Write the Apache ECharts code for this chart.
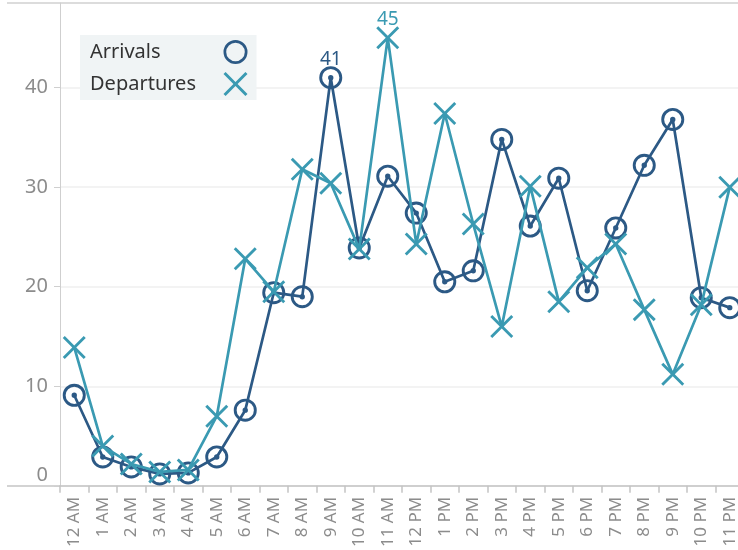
<!DOCTYPE html>
<html>
<head>
<meta charset="utf-8">
<script src="https://cdn.jsdelivr.net/npm/echarts@6/dist/echarts.min.js"></script>
<style>
  html, body { margin: 0; padding: 0; background: #fff; overflow: hidden; }
  /* the last category runs a little past the window edge, as in the original */
  #chart { width: 744px; height: 550px; }
</style>
</head>
<body>
<div id="chart"></div>
<script>
// hours of the day
const hours = ['12 AM', '1 AM', '2 AM', '3 AM', '4 AM', '5 AM', '6 AM', '7 AM', '8 AM', '9 AM', '10 AM', '11 AM',
  '12 PM', '1 PM', '2 PM', '3 PM', '4 PM', '5 PM', '6 PM', '7 PM', '8 PM', '9 PM', '10 PM', '11 PM'];
// values
const arrivals = [9.1, 2.9, 1.9, 1.2, 1.3, 2.9, 7.6, 19.4, 19.0, 41, 23.9, 31.1,
  27.4, 20.5, 21.6, 34.8, 26.1, 30.9, 19.6, 25.9, 32.2, 36.8, 18.9, 17.9];
const departures = [13.9, 4.0, 2.2, 1.4, 1.6, 7.0, 22.8, 19.5, 31.8, 30.4, 23.8, 45,
  24.3, 37.4, 26.3, 16.0, 30.1, 18.5, 21.9, 24.3, 17.7, 11.2, 18.2, 30.0];
const yTicks = [0, 10, 20, 30, 40];

const ARR_COLOR = '#2c5985';
const DEP_COLOR = '#3a9ab2';
const FONT = '"Noto Sans", sans-serif';

// ring with a dot in the middle (hollow, so the line shows through)
const RING_DOT = 'path://M24,12A12,12,0,1,1,0,12A12,12,0,1,1,24,12Z' +
  'M21,12A9,9,0,1,0,3,12A9,9,0,1,0,21,12Z' +
  'M14.8,12A2.8,2.8,0,1,1,9.2,12A2.8,2.8,0,1,1,14.8,12Z';
const RING = 'path://M24,12A12,12,0,1,1,0,12A12,12,0,1,1,24,12Z' +
  'M21.3,12A9.3,9.3,0,1,0,2.7,12A9.3,9.3,0,1,0,21.3,12Z';
const CROSS = 'path://M2.1,0L12,9.9L21.9,0L24,2.1L14.1,12L24,21.9L21.9,24L12,14.1L2.1,24L0,21.9L9.9,12L0,2.1Z';

// label only the peak of each series
function withPeakLabel(values, color) {
  const peak = values.indexOf(Math.max(...values));
  return values.map((v, i) => i === peak ? {
    value: v,
    label: {
      show: true, position: 'top', distance: -3,
      formatter: p => Math.round(p.value),
      color: color, fontSize: 19, fontFamily: FONT
    }
  } : v);
}

const chart = echarts.init(document.getElementById('chart'));
chart.setOption({
  animation: false,
  grid: { left: 60, right: 0, top: 3, bottom: 64 },
  legend: {
    orient: 'vertical',
    left: 80, top: 35,
    align: 'right',
    padding: [5, 9, 4, 10],
    itemGap: 8,
    itemWidth: 25, itemHeight: 24,
    backgroundColor: '#f0f4f5',
    selectedMode: false,
    formatter: name => '{t|' + name + '}',
    textStyle: {
      color: '#333', fontSize: 20, fontFamily: FONT,
      rich: { t: { width: 128, align: 'left', color: '#333', fontSize: 20, fontFamily: FONT } }
    },
    data: [
      { name: 'Arrivals', icon: RING },
      { name: 'Departures', icon: CROSS }
    ]
  },
  xAxis: {
    type: 'category',
    data: hours,
    boundaryGap: true,
    axisLine: { lineStyle: { color: '#c4c4c4', width: 1.5 } },
    axisTick: { show: true, interval: 0, length: 7, lineStyle: { color: '#c4c4c4', width: 1.5 } },
    axisLabel: {
      interval: 0, rotate: 90, margin: 11,
      color: '#8c8c8c', fontSize: 17, fontFamily: FONT
    },
    splitLine: { show: false }
  },
  yAxis: {
    type: 'value',
    min: 0, max: 48.5, interval: 10,
    axisLine: { show: true, lineStyle: { color: '#cfcfcf', width: 1 } },
    axisTick: { show: true, length: 6, customValues: yTicks, lineStyle: { color: '#cfcfcf' } },
    axisLabel: {
      customValues: yTicks,
      margin: 12,
      color: '#8c8c8c', fontSize: 20, fontFamily: FONT,
      formatter: v => v === 0 ? '{z|0}' : String(v),
      rich: { z: { padding: [0, 0, 22, 0], color: '#8c8c8c', fontSize: 20, fontFamily: FONT } }
    },
    splitLine: { lineStyle: { color: '#efefef', width: 1.5 } }
  },
  graphic: [
    { type: 'line', shape: { x1: 7, y1: 3, x2: 744, y2: 3 }, style: { stroke: '#d0d0d0', lineWidth: 1.5 }, silent: true },
    { type: 'line', shape: { x1: 7, y1: 486, x2: 60, y2: 486 }, style: { stroke: '#c4c4c4', lineWidth: 1.5 }, silent: true }
  ],
  series: [
    {
      name: 'Arrivals',
      type: 'line',
      data: withPeakLabel(arrivals, ARR_COLOR),
      symbol: RING_DOT,
      symbolSize: 23,
      showAllSymbol: true,
      lineStyle: { color: ARR_COLOR, width: 2.7 },
      itemStyle: { color: ARR_COLOR },
      z: 2
    },
    {
      name: 'Departures',
      type: 'line',
      data: withPeakLabel(departures, DEP_COLOR),
      symbol: CROSS,
      symbolSize: 23,
      showAllSymbol: true,
      lineStyle: { color: DEP_COLOR, width: 2.7 },
      itemStyle: { color: DEP_COLOR },
      z: 3
    }
  ]
});
</script>
</body>
</html>
